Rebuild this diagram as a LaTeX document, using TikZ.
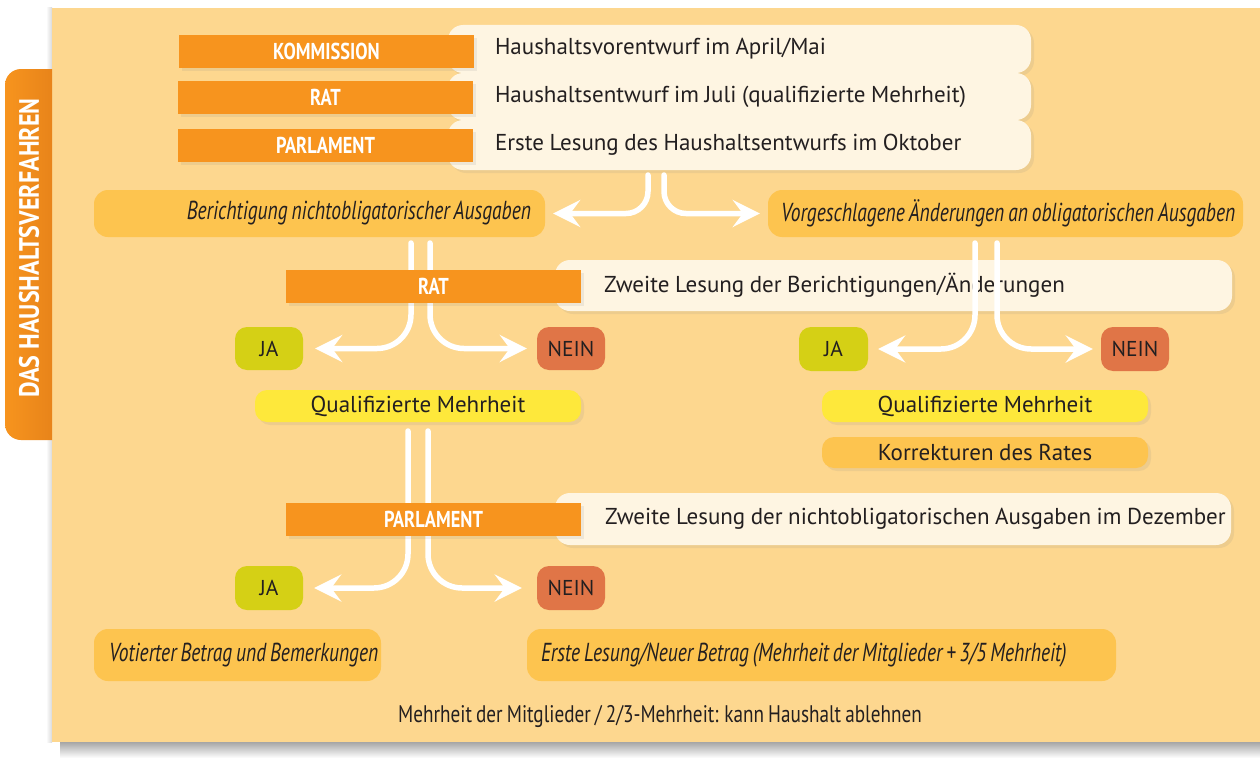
\documentclass[tikz,border=0pt]{standalone}
\usepackage{fontspec}
\setmainfont{PT Sans}[WordSpace=0.9]
\newfontfamily\condfont[FakeStretch=0.8,WordSpace=0.8]{PT Sans}
\newfontfamily\italfont[FakeStretch=0.75,WordSpace=0.75]{PT Sans}
\newfontfamily\titlefont[FakeStretch=0.86]{PT Sans}
\usetikzlibrary{arrows.meta,shadows}
\definecolor{panel}{HTML}{FDD78F}
\definecolor{orng}{HTML}{F7941E}
\definecolor{orngdark}{HTML}{E8841A}
\definecolor{cream}{HTML}{FEF5E2}
\definecolor{amber}{HTML}{FDC44F}
\definecolor{yel}{HTML}{FEE83B}
\definecolor{jagreen}{HTML}{D5D015}
\definecolor{neinred}{HTML}{E07547}
\definecolor{ink}{HTML}{231F20}
\tikzset{
  softshadow/.style={drop shadow={opacity=0.12,shadow xshift=3pt,shadow yshift=-3pt}},
  hdr/.style={fill=orng,text=white,font=\condfont\bfseries\fontsize{23}{26}\selectfont,inner sep=0pt,softshadow},
  creambox/.style={fill=cream,rounded corners=15pt,text=ink,font=\fontsize{23}{27}\selectfont,inner ysep=0pt,align=left,softshadow},
  amberbox/.style={fill=amber,rounded corners=14pt,text=ink,font=\italfont\itshape\fontsize{26}{30}\selectfont,inner ysep=0pt},
  yelbox/.style={fill=yel,rounded corners=12pt,text=ink,font=\fontsize{23}{27}\selectfont,inner sep=0pt,softshadow},
  korrbox/.style={fill=amber,rounded corners=12pt,text=ink,font=\fontsize{23}{27}\selectfont,inner sep=0pt,softshadow},
  jabox/.style={fill=jagreen,rounded corners=12pt,text=ink,font=\fontsize{21.5}{25}\selectfont,inner sep=0pt},
  neinbox/.style={fill=neinred,rounded corners=12pt,text=ink,font=\fontsize{21.5}{25}\selectfont,inner sep=0pt},
  warrow/.style={draw=white,line width=5.5pt,line cap=round,rounded corners=#1,
    -{Stealth[length=27pt,width=27pt,inset=10pt]}},
  warrow/.default=34pt
}
% name, x1, y1, x2, y2, style, text  (centred text)
\newcommand\cbx[7]{%
  \pgfmathsetmacro\bxw{#4-#2}\pgfmathsetmacro\bxh{#5-#3}%
  \node[#6,minimum width=\bxw pt,minimum height=\bxh pt] (#1) at ({(#2+#4)/2},{(#3+#5)/2}) {#7};}
% name, x1, y1, x2, y2, style, pad, align, text
\newcommand\tbx[9]{%
  \pgfmathsetmacro\bxw{#4-#2}\pgfmathsetmacro\bxh{#5-#3}\pgfmathsetmacro\bxt{#4-#2-2*#7}%
  \node[#6,minimum width=\bxw pt,minimum height=\bxh pt,inner xsep=#7pt,text width=\bxt pt,align=#8] (#1) at ({(#2+#4)/2},{(#3+#5)/2}) {\spaceskip=0pt\xspaceskip=0pt\mbox{#9}};}
\begin{document}
\begin{tikzpicture}[x=1pt,y=-1pt]
\useasboundingbox (0,0) rectangle (1260,760);
\fill[white] (0,0) rectangle (1260,760);
% panel and its shadow
\shade[top color=black!35,bottom color=white] (60,742) rectangle (1260,758);
\shade[left color=white,right color=black!15] (46,8) rectangle (52,742);
\fill[panel] (52,8) rectangle (1260,742);
% side tab
\shade[left color=orng,right color=orngdark] (52,69) [rounded corners=16pt]-- (5,69) -- (5,440) [sharp corners]-- (52,440) -- cycle;
\node[rotate=90,text=white,font=\titlefont\bfseries\fontsize{28}{31}\selectfont] (title) at (29,248) {DAS HAUSHALTSVERFAHREN};

% top cream boxes
\tbx{c1}{448}{25}{1031}{73}{creambox}{47}{left}{Haushaltsvorentwurf im April/Mai}
\tbx{c2}{448}{73}{1031}{120}{creambox}{47}{left}{Haushaltsentwurf im Juli (qualifizierte Mehrheit)}
\tbx{c3}{448}{120}{1031}{170}{creambox}{47}{left}{Erste Lesung des Haushaltsentwurfs im Oktober}
% amber boxes
\tbx{ber}{94}{190}{545}{237}{amberbox}{14}{right}{Berichtigung nichtobligatorischer Ausgaben}
\tbx{vor}{768}{190}{1243}{237}{amberbox}{13}{right}{Vorgeschlagene Änderungen an obligatorischen Ausgaben}
% second reading cream boxes
\tbx{c4}{555}{260}{1232}{311}{creambox}{49}{left}{Zweite Lesung der Berichtigungen/Änderungen}
\tbx{c5}{555}{493}{1231}{545}{creambox}{50}{left}{Zweite Lesung der nichtobligatorischen Ausgaben im Dezember}

% decision boxes
\cbx{ja1}{235}{327}{303}{370}{jabox}{JA}
\cbx{nein1}{537}{327}{605}{370}{neinbox}{NEIN}
\cbx{ja2}{799}{327}{868}{371}{jabox}{JA}
\cbx{nein2}{1101}{327}{1169}{371}{neinbox}{NEIN}
\cbx{q1}{255}{390}{581}{422}{yelbox}{Qualifizierte Mehrheit}
\cbx{q2}{822}{390}{1148}{422}{yelbox}{Qualifizierte Mehrheit}
\cbx{k2}{822}{437}{1148}{468}{korrbox}{Korrekturen des Rates}
\cbx{ja3}{235}{566}{303}{610}{jabox}{JA}
\cbx{nein3}{537}{566}{605}{610}{neinbox}{NEIN}
\tbx{vot}{94}{629}{381}{681}{amberbox}{15}{left}{Votierter Betrag und Bemerkungen}
\tbx{erste}{527}{629}{1116}{681}{amberbox}{14}{left}{Erste Lesung/Neuer Betrag (Mehrheit der Mitglieder + 3/5 Mehrheit)}

% connector start points
\coordinate (s1a) at (648,175);
\coordinate (s1b) at (664,175);
\coordinate (s2a) at (411,243);
\coordinate (s2b) at (430,243);
\coordinate (s3a) at (975,243);
\coordinate (s3b) at (997,243);
\coordinate (s4a) at (408,431);
\coordinate (s4b) at (428,431);

% left branches (behind the orange boxes)
\draw[warrow] (s2a) |- ([xshift=12pt]ja1.east);
\draw[warrow] (s2b) |- ([xshift=-10pt]nein1.west);
\draw[warrow] (s4a) |- ([xshift=11pt]ja3.east);
\draw[warrow] (s4b) |- ([xshift=-15pt]nein3.west);
\node[hdr,minimum width=295pt,minimum height=33pt] (h4) at (433.5,286.5) {RAT};
\node[hdr,minimum width=295pt,minimum height=33pt] (h5) at (433.5,519.5) {PARLAMENT};
% right branches
\draw[warrow] (s3a) |- ([xshift=10pt]ja2.east);
\draw[warrow] (s3b) |- ([xshift=-8pt]nein2.west);
% top branches
\draw[warrow=22pt] (s1a) |- ([xshift=8pt]ber.east);
\draw[warrow=22pt] (s1b) |- ([xshift=-8pt]vor.west);

% top orange headers
\node[hdr,minimum width=295pt,minimum height=33pt] (h1) at (326.5,51.5) {KOMMISSION};
\node[hdr,minimum width=295pt,minimum height=33pt] (h2) at (325.5,97.5) {RAT};
\node[hdr,minimum width=295pt,minimum height=33pt] (h3) at (325.5,145.5) {PARLAMENT};

% footer
\node[text=ink,font=\condfont\fontsize{24}{28}\selectfont] (foot) at (660,716) {Mehrheit der Mitglieder / 2/3-Mehrheit: kann Haushalt ablehnen};
\end{tikzpicture}
\end{document}
